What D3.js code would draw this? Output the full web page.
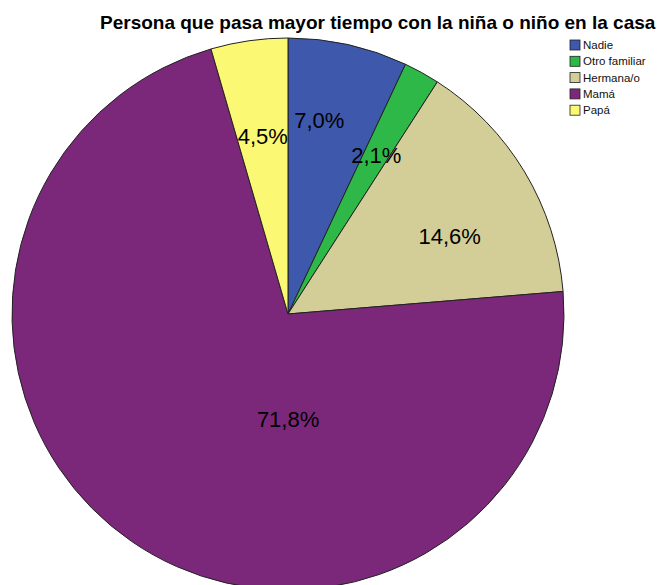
<!DOCTYPE html>
<html>
<head>
<meta charset="utf-8">
<script src="https://cdn.jsdelivr.net/npm/d3@7"></script>
<style>
  body { margin: 0; background: #fff; }
  svg { display: block; font-family: Arial, "Liberation Sans", sans-serif; }
</style>
</head>
<body>
<svg id="chart" width="657" height="585"></svg>
<script>
const title = "Persona que pasa mayor tiempo con la niña o niño en la casa";
const categories = ["Nadie", "Otro familiar", "Hermana/o", "Mamá", "Papá"];
const percents = [7.0, 2.1, 14.6, 71.8, 4.5];
const colors = ["#3e58ac", "#2eb848", "#d3ce97", "#7b287b", "#fbf873"];

const width = 657, height = 585;
const cx = 288, cy = 314, r = 276;

// label placement, SPSS puts them a bit off the slice middle
// [angle shift in degrees, radius fraction]
const labelLayout = [[-3.4, 0.71], [0, 0.66], [5.3, 0.65], [-34.6, 0.38], [0, 0.65]];

const svg = d3.select("#chart");

const color = d3.scaleOrdinal().domain(categories).range(colors);

const data = categories.map((c, i) => ({name: c, value: percents[i]}));

const pie = d3.pie()
    .sort(null)
    .value(d => d.value);

const arcs = pie(data);

const arc = d3.arc()
    .innerRadius(0)
    .outerRadius(r);

const g = svg.append("g")
    .attr("transform", `translate(${cx},${cy})`);

g.selectAll("path.slice")
    .data(arcs)
    .enter()
    .append("path")
    .attr("class", "slice")
    .attr("d", arc)
    .attr("fill", d => color(d.data.name))
    .attr("stroke", "#222")
    .attr("stroke-width", 1);

g.selectAll("text.pct")
    .data(arcs)
    .enter()
    .append("text")
    .attr("class", "pct")
    .attr("transform", (d, i) => {
        const [shift, frac] = labelLayout[i];
        const a = (d.startAngle + d.endAngle) / 2 + shift * Math.PI / 180;
        return `translate(${Math.sin(a) * r * frac},${-Math.cos(a) * r * frac})`;
    })
    .attr("text-anchor", "middle")
    .attr("dy", "0.36em")
    .attr("font-size", 22)
    .attr("fill", "#000")
    .text(d => d3.format(".1f")(d.data.value).replace(".", ",") + "%");

// title
svg.append("text")
    .attr("x", 100)
    .attr("y", 29)
    .attr("font-size", 19)
    .attr("font-weight", "bold")
    .attr("fill", "#000")
    .text(title);

// legend
const legend = svg.append("g")
    .attr("transform", "translate(570,40)");

const rows = legend.selectAll("g")
    .data(categories)
    .enter()
    .append("g")
    .attr("transform", (d, i) => `translate(0,${i * 16.3})`);

rows.append("rect")
    .attr("width", 10)
    .attr("height", 10)
    .attr("fill", d => color(d))
    .attr("stroke", "#222")
    .attr("stroke-width", 0.8);

rows.append("text")
    .attr("x", 13)
    .attr("y", 5)
    .attr("dy", "0.35em")
    .attr("font-size", 11.5)
    .attr("fill", "#111")
    .text(d => d);
</script>
</body>
</html>
